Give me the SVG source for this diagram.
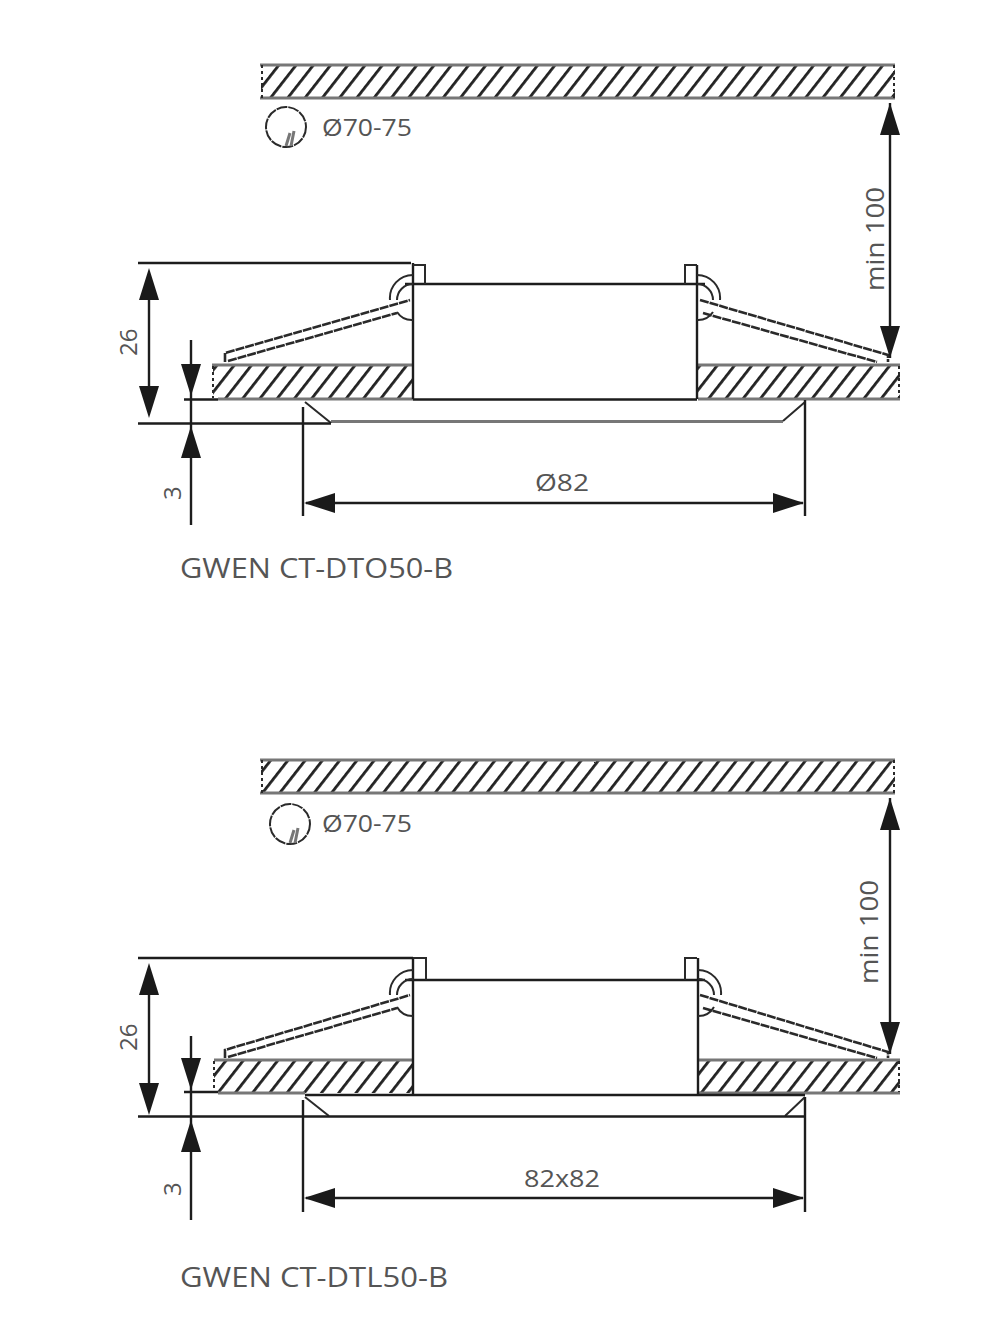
<svg xmlns="http://www.w3.org/2000/svg" width="1000" height="1340" viewBox="0 0 1000 1340">
<style>
.l{fill:none;stroke:#1d1d1d;stroke-width:2.4}
.t{fill:none;stroke:#2a2a2a;stroke-width:2}
.g{fill:none;stroke:#777;stroke-width:3}
.h{fill:url(#hatch);stroke:none}
.d{fill:none;stroke:#2a2a2a;stroke-width:2.6;stroke-dasharray:9 1}
.a{fill:#1a1a1a;stroke:none}
.x{font-family:"Open Sans","Liberation Sans",sans-serif;fill:#555}
</style>
<defs>
<pattern id="hatch" patternUnits="userSpaceOnUse" width="13.6" height="13.6" patternTransform="rotate(38)">
<rect width="13.6" height="13.6" fill="#fff"/>
<rect x="0" width="2.8" height="13.6" fill="#222"/>
</pattern>
<path id="up" class="a" d="M0 0L10 32H-10Z"/>
<path id="down" class="a" d="M0 0L10 -32H-10Z"/>
<path id="left" class="a" d="M0 0L31 -10V10Z"/>
<path id="right" class="a" d="M0 0L-31 -10V10Z"/>
</defs>
<rect width="1000" height="1340" fill="#fff"/>

<g id="ceiling-1">
<rect class="h" x="261" y="65" width="634" height="33"/>
<path class="g" d="M260 65H895M260 98H895"/>
<path class="t" d="M262 65V98M894 65V98" stroke-dasharray="3 3"/>
</g>
<g id="hole-1">
<circle class="t" cx="286" cy="127" r="20" stroke-dasharray="11 1"/>
<path class="g" d="M291 146L294 131M286 146L290 133"/>
<text class="x" x="322" y="136" font-size="24" textLength="90" lengthAdjust="spacingAndGlyphs">Ø70-75</text>
</g>
<g id="slab-1">
<rect class="h" x="213" y="365" width="200" height="34"/>
<rect class="h" x="698" y="365" width="202" height="34"/>
<path class="g" d="M212 365H413M218 399H413M698 365H900M698 399H900"/>
<path class="t" d="M213 366V398M899 366V398" stroke-dasharray="3 3"/>
</g>
<g id="lamp-1">
<path class="l" d="M405 284H705M413 263V399M697 265V399M413 399.500H697"/>
<path class="t" d="M413 265H425V284M685 284V265H697"/>
<path class="t" stroke-width="2.4" d="M390 300A23 23 0 0 1 413 275M397 300A16 16 0 0 1 413 284M397 312A18 18 0 0 0 413 320M720 300A23 23 0 0 0 697 275M713 300A16 16 0 0 0 697 284M713 312A18 18 0 0 1 697 320"/>
<path class="d" d="M225 362V353L410 300M228 361L397 313M700 300L888 355V362M703 313L877 362"/>
<path class="g" d="M331 421.500H783"/>
<path class="t" d="M305 402L331 423M783 421L805 402"/>
</g>
<g id="dimensions-1">
<path class="l" d="M138 263H411M138 423.500H331M184 399.500H218M149 298V390M191 340V525M303 407V516M805 400V516M306 503H803M890 103V358"/>
<use href="#up" x="149" y="268"/><use href="#down" x="149" y="418"/>
<use href="#down" x="191" y="396"/><use href="#up" x="191" y="426"/>
<use href="#left" x="304" y="503"/><use href="#right" x="804" y="503"/>
<use href="#up" x="890" y="103"/><use href="#down" x="890" y="358"/>
<text class="x" transform="translate(137 356) rotate(-90)" font-size="24">26</text>
<text class="x" transform="translate(181 500) rotate(-90)" font-size="24">3</text>
<text class="x" transform="translate(884 291) rotate(-90)" font-size="25" textLength="104" lengthAdjust="spacingAndGlyphs">min 100</text>
<text class="x" x="535" y="491" font-size="24" textLength="54" lengthAdjust="spacingAndGlyphs">Ø82</text>
</g>
<text id="title-1" class="x" x="180" y="578" font-size="27" textLength="273" lengthAdjust="spacingAndGlyphs">GWEN CT-DTO50-B</text>

<g id="ceiling-2">
<rect class="h" x="261" y="760" width="634" height="33"/>
<path class="g" d="M260 760H895M260 793H895"/>
<path class="t" d="M262 760V793M894 760V793" stroke-dasharray="3 3"/>
</g>
<g id="hole-2">
<circle class="t" cx="290" cy="824" r="20" stroke-dasharray="11 1"/>
<path class="g" d="M295 843L298 828M290 843L294 830"/>
<text class="x" x="322" y="832" font-size="24" textLength="90" lengthAdjust="spacingAndGlyphs">Ø70-75</text>
</g>
<g id="slab-2">
<rect class="h" x="214" y="1060" width="199" height="33"/>
<rect class="h" x="698" y="1060" width="202" height="33"/>
<path class="g" d="M214 1060H413M698 1060H900M218 1093H305M698 1093H900"/>
<path class="t" d="M214 1061V1092M899 1061V1092" stroke-dasharray="3 3"/>
</g>
<g id="lamp-2">
<path class="l" d="M405 980H705M413 958V1094M698 958V1094M305 1095H805"/>
<path class="t" d="M413 958H426V980M685 980V958H697"/>
<path class="t" stroke-width="2.4" d="M390 995A23 23 0 0 1 413 970M397 995A16 16 0 0 1 413 979M397 1007A18 18 0 0 0 413 1016M721 995A23 23 0 0 0 698 970M714 995A16 16 0 0 0 698 979M714 1007A18 18 0 0 1 698 1016"/>
<path class="d" d="M225 1058V1050L410 995M228 1057L397 1008M700 995L888 1052V1058M703 1008L877 1058"/>
<path class="t" d="M305 1097L329 1116M785 1116L805 1097"/>
</g>
<g id="dimensions-2">
<path class="l" d="M138 958H413M138 1116.500H805M184 1092H218M149 993V1085M191 1036V1220M303 1100V1212M805 1097V1212M306 1198H803M890 798V1054"/>
<use href="#up" x="149" y="963"/><use href="#down" x="149" y="1115"/>
<use href="#down" x="191" y="1090"/><use href="#up" x="191" y="1120"/>
<use href="#left" x="304" y="1198"/><use href="#right" x="804" y="1198"/>
<use href="#up" x="890" y="798"/><use href="#down" x="890" y="1054"/>
<text class="x" transform="translate(137 1051) rotate(-90)" font-size="24">26</text>
<text class="x" transform="translate(181 1196) rotate(-90)" font-size="24">3</text>
<text class="x" transform="translate(878 984) rotate(-90)" font-size="25" textLength="104" lengthAdjust="spacingAndGlyphs">min 100</text>
<text class="x" x="524" y="1187" font-size="24" textLength="76" lengthAdjust="spacingAndGlyphs">82x82</text>
</g>
<text id="title-2" class="x" x="180" y="1287" font-size="27" textLength="268" lengthAdjust="spacingAndGlyphs">GWEN CT-DTL50-B</text>
</svg>
